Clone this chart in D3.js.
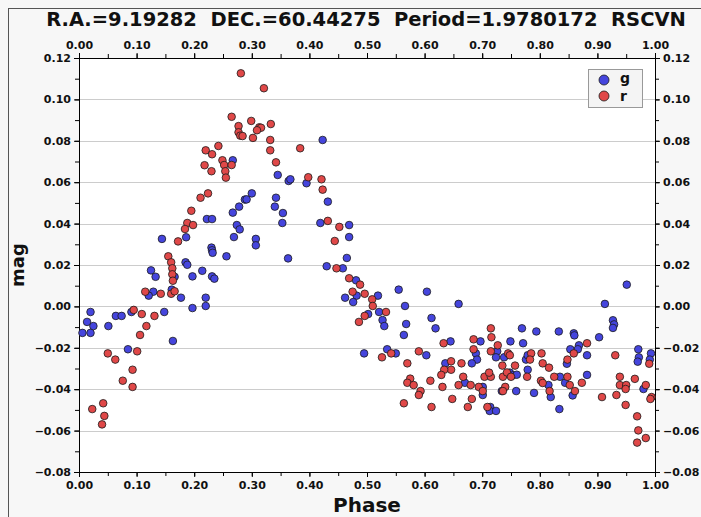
<!DOCTYPE html>
<html>
<head>
<meta charset="utf-8">
<script src="https://cdn.jsdelivr.net/npm/d3@7"></script>
<style>
body { margin: 0; background: #f7f7f7; }
text { font-family: "DejaVu Sans", sans-serif; }
</style>
</head>
<body>
<script>

var title = "R.A.=9.19282  DEC.=60.44275  Period=1.9780172  RSCVN";

var xTicks = [0, 0.1, 0.2, 0.3, 0.4, 0.5, 0.6, 0.7, 0.8, 0.9, 1.0];
var yTicks = [-0.08, -0.06, -0.04, -0.02, 0, 0.02, 0.04, 0.06, 0.08, 0.10, 0.12];

// g band: phase, mag
var gPhase = [0.267,0.345,0.364,0.367,0.395,0.423,0.300,0.288,0.291,0.278,0.267,0.342,0.340,0.354,0.353,0.419,
  0.222,0.231,0.274,0.279,0.269,0.307,0.307,0.144,0.186,0.230,0.231,0.232,0.256,0.363,0.185,0.188,0.125,0.133,
  0.197,0.214,0.231,0.235,0.166,0.161,0.129,0.121,0.177,0.220,
  0.220,0.197,0.148,0.091,0.064,0.074,0.020,0.014,0.025,0.051,0.006,0.020,0.085,0.163,
  0.432,0.469,0.469,0.465,0.430,0.458,0.481,0.482,0.519,0.555,0.604,0.462,
  0.476,0.566,0.659,0.502,0.521,0.527,0.530,0.568,0.564,0.612,0.619,0.645,0.697,0.495,0.535,0.550,0.603,0.636,
  0.689,0.691,0.682,0.726,0.724,0.670,0.701,0.714,0.713,0.724,
  0.738,0.749,0.769,0.771,0.794,0.833,0.859,0.860,0.868,0.866,0.853,0.882,0.847,0.776,0.779,0.779,0.748,0.753,
  0.760,0.835,0.844,0.815,0.819,0.790,0.759,0.734,0.701,0.857,0.834,0.882,0.903,0.913,0.927,0.929,0.927,0.951,
  0.971,0.972,0.970,0.993,0.991,0.980];
var gMag = [0.0706,0.0635,0.0606,0.0614,0.0595,0.0804,0.0546,0.0516,0.0517,0.0482,0.0453,0.0525,0.0482,0.0451,0.0403,0.0403,
  0.0422,0.0422,0.0393,0.0372,0.0335,0.0326,0.0295,0.0326,0.0334,0.0284,0.0271,0.0259,0.0242,0.0232,0.0213,0.0201,0.0174,0.0143,
  0.0145,0.0172,0.0145,0.0134,0.0143,0.0081,0.0071,0.0052,0.0042,0.0042,
  0.0002,-0.0008,-0.0027,-0.0027,-0.0046,-0.0046,-0.0027,-0.0075,-0.0095,-0.0095,-0.0128,-0.0128,-0.0207,-0.0167,
  0.0506,0.0393,0.0335,0.0234,0.0194,0.0184,0.0126,0.0052,0.0052,0.0081,0.0071,0.0042,
  0.0021,0.0002,0.0012,-0.0037,-0.0027,-0.0066,-0.0095,-0.0085,-0.0138,-0.0056,-0.0106,-0.0169,-0.0169,-0.0227,-0.0207,-0.0227,-0.0236,-0.0275,
  -0.0227,-0.0257,-0.0275,-0.0217,-0.0246,-0.0369,-0.0389,-0.0486,-0.0505,-0.0505,
  -0.0246,-0.0169,-0.0106,-0.0178,-0.0121,-0.0121,-0.0130,-0.0140,-0.0188,-0.0207,-0.0207,-0.0236,-0.0277,-0.0257,-0.0236,-0.0306,-0.0320,-0.0333,
  -0.0330,-0.0340,-0.0369,-0.0380,-0.0438,-0.0418,-0.0409,-0.0409,-0.0428,-0.0430,-0.0496,-0.0331,-0.0149,0.0012,-0.0067,-0.0087,-0.0104,0.0105,
  -0.0207,-0.0246,-0.0267,-0.0227,-0.0257,-0.0399];

// r band: phase, mag
var rPhase = [0.281,0.321,0.265,0.299,0.333,0.277,0.313,0.316,0.309,0.277,0.280,0.284,0.302,0.332,0.242,0.220,0.231,0.332,
  0.384,0.249,0.252,0.254,0.255,0.265,0.218,0.230,0.342,0.398,0.421,0.423,0.224,0.211,0.195,0.188,0.198,0.184,0.172,
  0.155,0.160,0.162,0.162,0.163,0.115,0.142,0.160,0.166,0.095,0.109,0.131,0.117,0.106,0.050,0.101,0.063,0.093,0.076,
  0.093,0.023,0.042,0.044,0.040,0.432,0.452,0.444,0.447,0.469,0.488,0.475,0.496,0.509,0.510,0.496,0.486,0.533,0.542,
  0.526,0.590,0.570,0.633,0.646,0.646,0.634,0.629,0.664,0.685,0.685,0.715,0.716,0.715,0.575,0.570,0.581,0.610,0.593,
  0.590,0.631,0.659,0.680,0.667,0.694,0.648,0.682,0.564,0.612,0.675,0.709,0.701,0.727,0.745,0.748,0.735,0.757,0.785,
  0.783,0.803,0.805,0.816,0.848,0.859,0.882,0.704,0.715,0.712,0.736,0.743,0.750,0.778,0.802,0.805,0.825,0.848,0.852,
  0.817,0.861,0.873,0.740,0.736,0.931,0.939,0.939,0.950,0.949,0.965,0.908,0.933,0.949,0.984,0.990,0.994,0.992,0.969,
  0.971,0.984,0.969];
var rMag = [0.1126,0.1054,0.0916,0.0896,0.0881,0.0871,0.0865,0.0863,0.0851,0.0841,0.0825,0.0823,0.0814,0.0804,0.0775,0.0754,0.0735,0.0754,
  0.0764,0.0706,0.0683,0.0653,0.0622,0.0683,0.0682,0.0653,0.0696,0.0624,0.0614,0.0564,0.0546,0.0525,0.0462,0.0403,0.0393,0.0374,0.0314,
  0.0242,0.0213,0.0184,0.0155,0.0124,0.0071,0.0061,0.0061,0.0073,-0.0017,-0.0037,-0.0046,-0.0095,-0.0138,-0.0227,-0.0217,-0.0257,-0.0306,-0.0359,
  -0.0389,-0.0496,-0.0468,-0.0529,-0.0570,0.0413,0.0384,0.0316,0.0184,0.0136,0.0105,0.0071,0.0061,0.0034,0.0002,-0.0046,-0.0075,-0.0027,-0.0227,
  -0.0246,-0.0217,-0.0275,-0.0178,-0.0265,-0.0306,-0.0306,-0.0331,-0.0275,-0.0159,-0.0207,-0.0106,-0.0149,-0.0217,-0.0349,-0.0369,-0.0380,-0.0359,-0.0409,
  -0.0428,-0.0389,-0.0380,-0.0380,-0.0340,-0.0389,-0.0447,-0.0447,-0.0468,-0.0486,-0.0486,-0.0486,-0.0409,-0.0188,-0.0227,-0.0236,-0.0286,-0.0286,-0.0227,
  -0.0257,-0.0227,-0.0275,-0.0296,-0.0257,-0.0227,-0.0178,-0.0340,-0.0340,-0.0320,-0.0340,-0.0319,-0.0340,-0.0340,-0.0359,-0.0370,-0.0340,-0.0340,-0.0380,
  -0.0409,-0.0409,-0.0369,-0.0389,-0.0409,-0.0236,-0.0340,-0.0380,-0.0380,-0.0399,-0.0350,-0.0438,-0.0428,-0.0476,-0.0380,-0.0277,-0.0438,-0.0447,-0.0531,
  -0.0599,-0.0636,-0.0658];

var width = 701, height = 517;
var plotLeft = 79, plotRight = 655, plotTop = 58, plotBottom = 472;

var svg = d3.select("body").append("svg")
  .attr("width", width)
  .attr("height", height);

svg.append("rect").attr("width", width).attr("height", height).attr("fill", "#f7f7f7");
// frame lines (left and top)
svg.append("line").attr("x1", 8.5).attr("x2", 8.5).attr("y1", 8).attr("y2", height).attr("stroke", "#555");
svg.append("line").attr("x1", 8).attr("x2", width).attr("y1", 8.5).attr("y2", 8.5).attr("stroke", "#555");

var x = d3.scaleLinear().domain([0, 1]).range([plotLeft, plotRight]);
var y = d3.scaleLinear().domain([-0.08, 0.12]).range([plotBottom, plotTop]);

svg.append("rect")
  .attr("x", plotLeft).attr("y", plotTop)
  .attr("width", plotRight - plotLeft).attr("height", plotBottom - plotTop)
  .attr("fill", "#ffffff");

// grid
svg.append("g").selectAll("line")
  .data(yTicks.slice(1, -1))
  .enter().append("line")
  .attr("x1", plotLeft).attr("x2", plotRight)
  .attr("y1", function (d) { return Math.round(y(d)) + 0.5; })
  .attr("y2", function (d) { return Math.round(y(d)) + 0.5; })
  .attr("stroke", "#cccccc");

var fmt = d3.format(".2f");
var xMinor = d3.range(0, 1.0001, 0.05);
var yMinor = d3.range(-0.08, 0.12001, 0.01);

function styleAxis(g) {
  g.select(".domain").remove();
  g.selectAll("text").attr("font-size", 11).attr("font-weight", "bold").attr("fill", "#111");
  g.selectAll("line").attr("stroke", "#000");
}

function minor(axisFn, scale, vals) {
  return axisFn(scale).tickValues(vals).tickSize(4).tickFormat("");
}

svg.append("g").attr("transform", "translate(0," + plotBottom + ")")
  .call(minor(d3.axisBottom, x, xMinor)).call(styleAxis);
svg.append("g").attr("transform", "translate(0," + plotTop + ")")
  .call(minor(d3.axisTop, x, xMinor)).call(styleAxis);
svg.append("g").attr("transform", "translate(" + plotLeft + ",0)")
  .call(minor(d3.axisLeft, y, yMinor)).call(styleAxis);
svg.append("g").attr("transform", "translate(" + plotRight + ",0)")
  .call(minor(d3.axisRight, y, yMinor)).call(styleAxis);

svg.append("g").attr("transform", "translate(0," + plotBottom + ")")
  .call(d3.axisBottom(x).tickValues(xTicks).tickFormat(fmt).tickSize(5).tickPadding(4)).call(styleAxis);
svg.append("g").attr("transform", "translate(0," + plotTop + ")")
  .call(d3.axisTop(x).tickValues(xTicks).tickFormat(fmt).tickSize(5).tickPadding(4)).call(styleAxis);
svg.append("g").attr("transform", "translate(" + plotLeft + ",0)")
  .call(d3.axisLeft(y).tickValues(yTicks).tickFormat(fmt).tickSize(5).tickPadding(3)).call(styleAxis);
svg.append("g").attr("transform", "translate(" + plotRight + ",0)")
  .call(d3.axisRight(y).tickValues(yTicks).tickFormat(fmt).tickSize(5).tickPadding(3)).call(styleAxis);

// axis lines
svg.append("rect")
  .attr("x", plotLeft + 0.5).attr("y", plotTop + 0.5)
  .attr("width", plotRight - plotLeft).attr("height", plotBottom - plotTop)
  .attr("fill", "none").attr("stroke", "#000");

// points
var gData = gPhase.map(function (p, i) { return { phase: p, mag: gMag[i] }; });
var rData = rPhase.map(function (p, i) { return { phase: p, mag: rMag[i] }; });

function drawPoints(data, color) {
  svg.append("g").selectAll("circle")
    .data(data)
    .enter().append("circle")
    .attr("cx", function (d) { return x(d.phase); })
    .attr("cy", function (d) { return y(d.mag); })
    .attr("r", 3.8)
    .attr("fill", color)
    .attr("stroke", "#1a1a1a")
    .attr("stroke-width", 0.8);
}
drawPoints(gData, "#4545dd");
drawPoints(rData, "#e04848");

// legend
var lg = svg.append("g").attr("transform", "translate(588,69)");
lg.append("rect").attr("x", 0.5).attr("y", 0.5).attr("width", 54).attr("height", 38)
  .attr("fill", "#f4f4f4").attr("stroke", "#999");
lg.append("circle").attr("cx", 16).attr("cy", 11).attr("r", 5).attr("fill", "#4545dd").attr("stroke", "#1a1a1a").attr("stroke-width", 0.8);
lg.append("circle").attr("cx", 16).attr("cy", 27).attr("r", 5).attr("fill", "#e04848").attr("stroke", "#1a1a1a").attr("stroke-width", 0.8);
lg.append("text").attr("x", 32).attr("y", 14).attr("font-size", 14).attr("font-weight", "bold").attr("fill", "#111").text("g");
lg.append("text").attr("x", 32).attr("y", 32).attr("font-size", 14).attr("font-weight", "bold").attr("fill", "#111").text("r");

// titles
svg.append("text")
  .attr("x", 366).attr("y", 26)
  .attr("text-anchor", "middle")
  .attr("font-size", 19.5).attr("font-weight", "bold").attr("fill", "#111")
  .style("white-space", "pre")
  .text(title);

svg.append("text")
  .attr("x", (plotLeft + plotRight) / 2).attr("y", 512)
  .attr("text-anchor", "middle")
  .attr("font-size", 20).attr("font-weight", "bold").attr("fill", "#111")
  .text("Phase");

svg.append("text")
  .attr("transform", "translate(24," + ((plotTop + plotBottom) / 2) + ") rotate(-90)")
  .attr("text-anchor", "middle")
  .attr("font-size", 18).attr("font-weight", "bold").attr("fill", "#111")
  .text("mag");

</script>
</body>
</html>
